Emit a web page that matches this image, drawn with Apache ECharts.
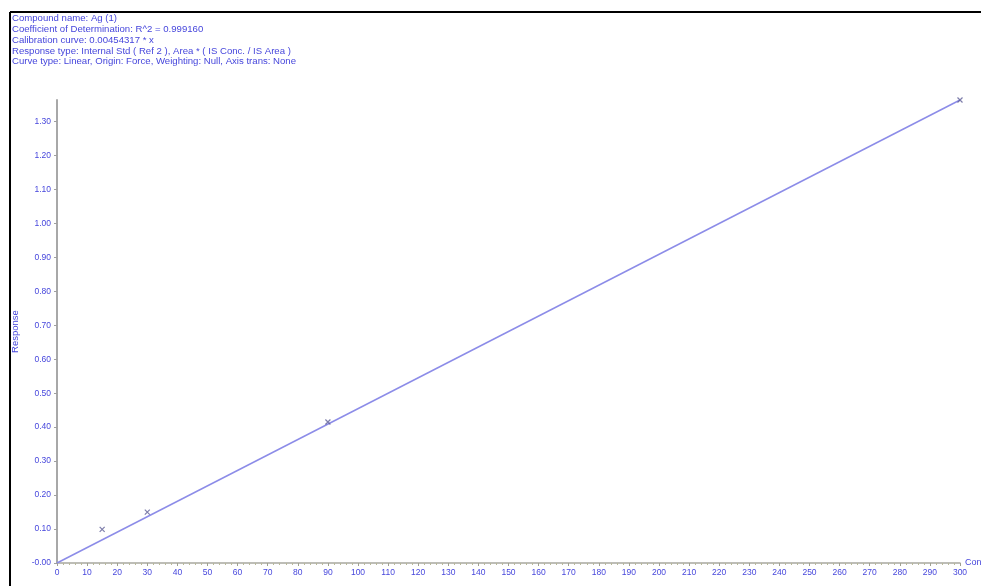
<!DOCTYPE html>
<html>
<head>
<meta charset="utf-8">
<title>Calibration curve</title>
<script src="https://cdn.jsdelivr.net/npm/echarts@6/dist/echarts.min.js"></script>
<style>
  html, body { margin: 0; padding: 0; background: #ffffff; }
  #chart { width: 981px; height: 586px; }
</style>
</head>
<body>
<div id="chart"></div>
<script>
// Header lines printed above the plot
const headerLines = [
  'Compound name: Ag (1)',
  'Coefficient of Determination: R^2 = 0.999160',
  'Calibration curve: 0.00454317 * x',
  'Response type: Internal Std ( Ref 2 ), Area * ( IS Conc. / IS Area )',
  'Curve type: Linear, Origin: Force, Weighting: Null, Axis trans: None'
];

// Calibration standards (concentration, response)
const stdConc = [15, 30, 90, 300];
const stdResponse = [0.099, 0.15, 0.415, 1.363];

// Fitted line through the origin
const fitConc = [0, 300];
const fitResponse = [0, 1.363];

// Axis ranges
const xMin = 0, xMax = 300, xStep = 10;
const yMin = 0, yMax = 1.3631, yStep = 0.1;

const blue = '#4646dc';
const font = '"Liberation Sans", Arial, sans-serif';
const chart = echarts.init(document.getElementById('chart'));

const headerGraphics = headerLines.map((t, i) => ({
  type: 'text',
  left: 12,
  top: 13.5 + i * 10.8,
  style: { text: t, fill: blue, font: '9.6px ' + font }
}));

chart.setOption({
  animation: false,
  backgroundColor: '#ffffff',
  grid: { left: 57, right: 21, top: 100, bottom: 23, outerBoundsMode: 'none' },
  graphic: [
    // frame lines
    { type: 'line', shape: { x1: 10, y1: 12, x2: 981, y2: 12 }, style: { stroke: '#000', lineWidth: 2 } },
    { type: 'line', shape: { x1: 10, y1: 12, x2: 10, y2: 586 }, style: { stroke: '#000', lineWidth: 2 } },
    ...headerGraphics
  ],
  xAxis: {
    type: 'value',
    min: xMin, max: xMax, interval: xStep,
    name: 'Conc',
    nameLocation: 'end',
    nameGap: 5,
    nameTextStyle: { color: blue, fontSize: 9, fontFamily: 'Liberation Sans', verticalAlign: 'middle' },
    axisLine: { show: true, lineStyle: { color: '#a8a8a0', width: 1.5 } },
    axisTick: { show: true, length: 3, lineStyle: { color: '#a0a090' } },
    minorTick: { show: true, splitNumber: 5, length: 2, lineStyle: { color: '#b8b89a' } },
    splitLine: { show: false },
    axisLabel: { color: blue, fontSize: 8.5, fontFamily: 'Liberation Sans', margin: 5 }
  },
  yAxis: {
    type: 'value',
    min: yMin, max: yMax, interval: yStep,
    name: 'Response',
    nameLocation: 'middle',
    nameGap: 36,
    nameRotate: 90,
    nameTextStyle: { color: blue, fontSize: 9.5, fontFamily: 'Liberation Sans' },
    axisLine: { show: true, lineStyle: { color: '#a8a8a8', width: 2 } },
    axisTick: { show: true, length: 3, lineStyle: { color: '#a0a0a0' } },
    splitLine: { show: false },
    axisLabel: {
      color: blue, fontSize: 8.5, fontFamily: 'Liberation Sans', margin: 6,
      showMaxLabel: false,
      formatter: v => (Math.abs(v) < 1e-9 ? '-0.00' : v.toFixed(2))
    }
  },
  series: [
    {
      type: 'line',
      data: fitConc.map((c, i) => [c, fitResponse[i]]),
      showSymbol: false,
      lineStyle: { color: '#8c8ce8', width: 1.5 },
      z: 2
    },
    {
      type: 'scatter',
      data: stdConc.map((c, i) => [c, stdResponse[i]]),
      symbol: 'path://M0,0L4,4M4,0L0,4',
      symbolSize: 5,
      itemStyle: { color: 'none', borderColor: '#5e5e96', borderWidth: 1.2 },
      z: 3
    }
  ]
});
</script>
</body>
</html>
